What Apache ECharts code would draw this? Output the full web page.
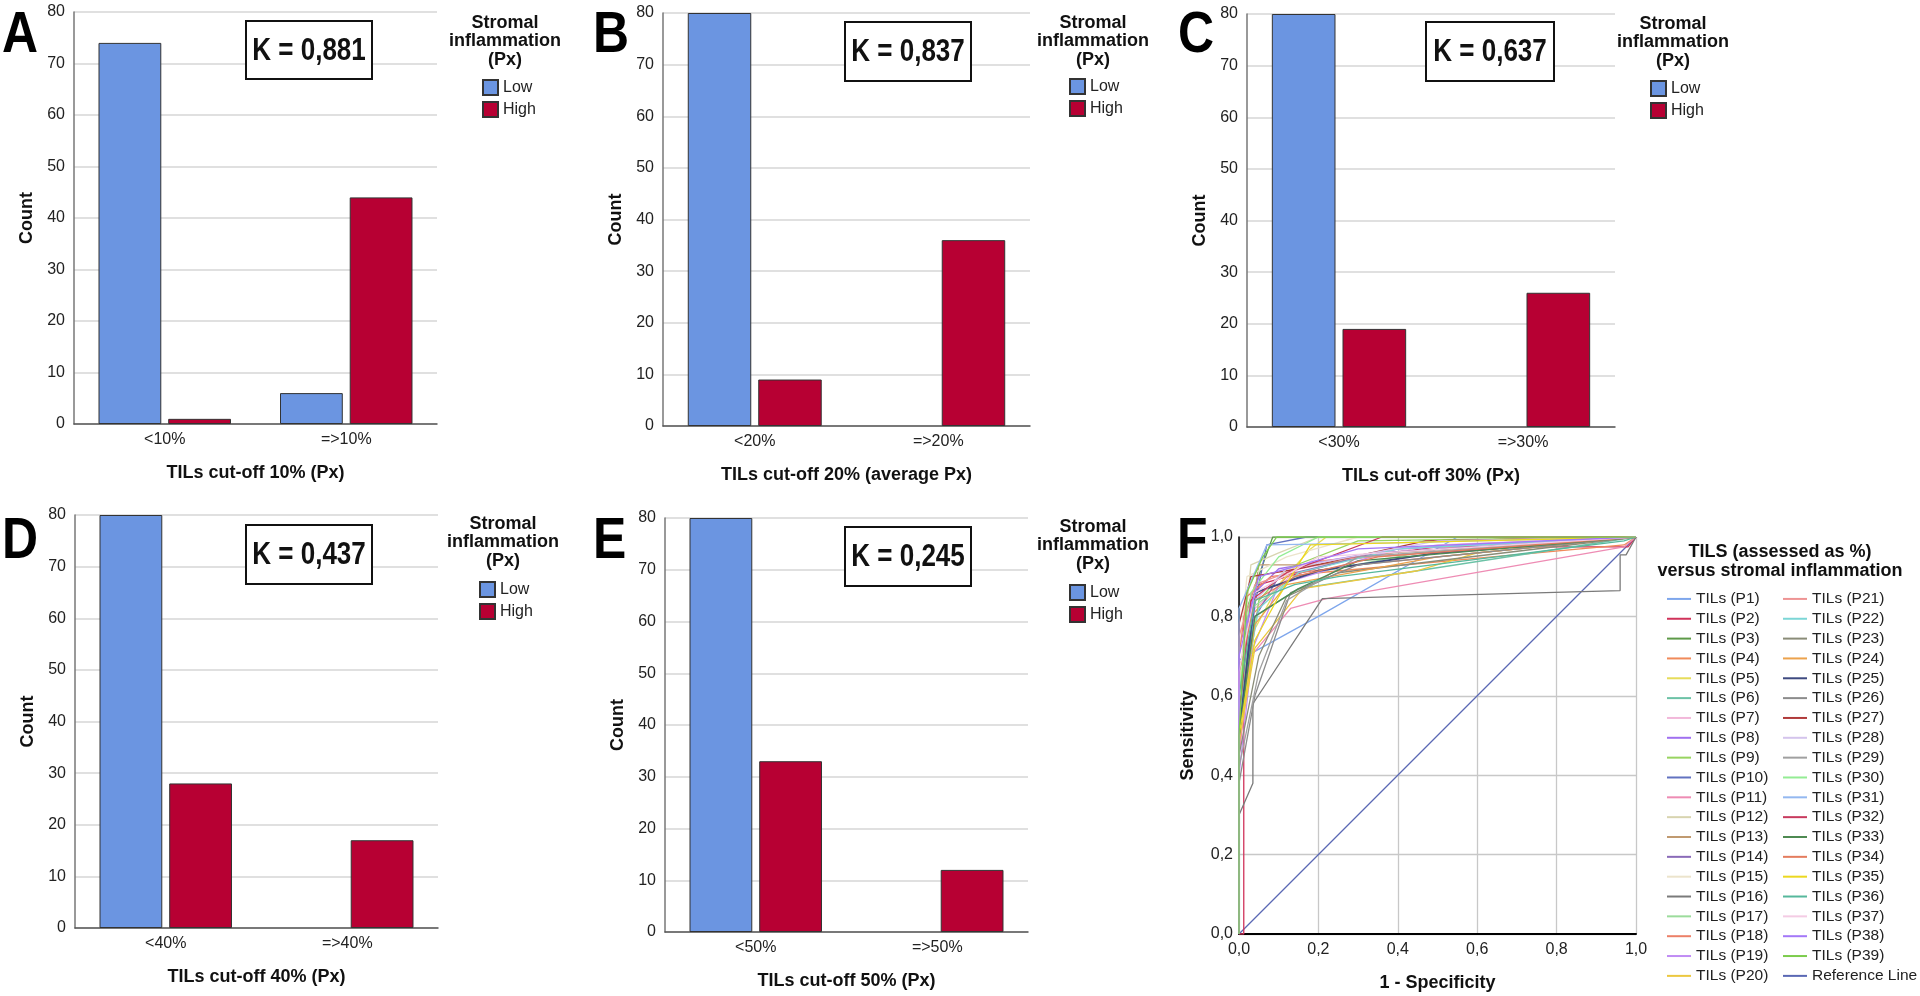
<!DOCTYPE html>
<html>
<head>
<meta charset="utf-8">
<script src="https://cdn.jsdelivr.net/npm/echarts@6/dist/echarts.min.js"></script>
<style>
html,body{margin:0;padding:0;background:#fff;}
#chart{width:1920px;height:996px;}
</style>
</head>
<body>
<div id="chart"></div>
<script>
// ---------------- DATA ----------------
const catsA = ['<10%', '=>10%'];
const lowA = [74, 6];
const highA = [1, 44];
const catsB = ['<20%', '=>20%'];
const lowB = [80, 0];
const highB = [9, 36];
const catsC = ['<30%', '=>30%'];
const lowC = [80, 0];
const highC = [19, 26];
const catsD = ['<40%', '=>40%'];
const lowD = [80, 0];
const highD = [28, 17];
const catsE = ['<50%', '=>50%'];
const lowE = [80, 0];
const highE = [33, 12];
const kappas = ['0,881', '0,837', '0,637', '0,437', '0,245'];
const xTitles = ['TILs cut-off 10% (Px)', 'TILs cut-off 20% (average Px)', 'TILs cut-off 30% (Px)', 'TILs cut-off 40% (Px)', 'TILs cut-off 50% (Px)'];
const panelLetters = ['A', 'B', 'C', 'D', 'E', 'F'];
const groupNames = ['Low', 'High'];
const legendTitleLines = ['Stromal', 'inflammation', '(Px)'];
const countTicks = {min: 0, max: 80, interval: 10};
const rocTicks = {min: 0, max: 1, interval: 0.2};
const rocLegendTitle = ['TILS (assessed as %)', 'versus stromal inflammation'];

// ROC curves (1 - specificity, sensitivity)
const rocCurves = [
  [[0,0],[0,0.69],[0.2,0.8],[0.55,1],[1,1]],                                   // P1
  [[0,0],[0.012,0],[0.012,0.8],[0.05,0.88],[0.3,0.95],[0.5,0.975],[0.98,0.975],[1,1]], // P2
  [[0,0],[0,0.45],[0.02,0.82],[0.085,1],[1,1]],                                // P3
  [[0,0],[0,0.6],[0.03,0.8],[0.12,0.9],[0.2,0.91],[0.97,0.98],[1,1]],          // P4
  [[0,0],[0,0.55],[0.03,0.75],[0.1,0.88],[0.18,0.97],[0.22,1],[1,1]],          // P5
  [[0,0],[0,0.5],[0.04,0.8],[0.15,0.87],[0.45,0.915],[1,1]],                   // P6
  [[0,0],[0,0.6],[0.04,0.82],[0.15,0.92],[0.5,0.98],[1,1]],                    // P7
  [[0,0],[0,0.72],[0.04,0.86],[0.1,0.92],[0.4,0.97],[1,1]],                    // P8
  [[0,0],[0,0.5],[0.05,0.84],[0.12,0.92],[0.3,0.99],[1,1]],                    // P9
  [[0,0],[0,0.5],[0.04,0.83],[0.07,0.98],[0.17,1],[1,1]],                      // P10
  [[0,0],[0,0.45],[0.03,0.7],[0.13,0.82],[0.22,0.845],[0.97,0.975],[1,1]],     // P11
  [[0,0],[0,0.62],[0.03,0.93],[0.1,0.96],[0.2,1],[1,1]],                       // P12
  [[0,0],[0,0.66],[0.025,0.76],[0.05,0.93],[0.2,0.93],[0.38,0.96],[1,1]],      // P13
  [[0,0],[0,0.55],[0.03,0.78],[0.1,0.9],[0.35,0.96],[1,1]],                    // P14
  [[0,0],[0,0.7],[0.02,0.9],[0.12,0.95],[0.3,1],[1,1]],                        // P15
  [[0,0],[0,0.3],[0.035,0.38],[0.035,0.58],[0.21,0.845],[0.96,0.865],[0.96,0.955],[0.975,0.955],[1,1]], // P16
  [[0,0],[0,0.5],[0.03,0.82],[0.14,0.9],[0.45,0.96],[1,1]],                    // P17
  [[0,0],[0,0.7],[0.02,0.85],[0.08,0.9],[0.3,0.93],[1,1]],                     // P18
  [[0,0],[0,0.4],[0.035,0.72],[0.1,0.88],[0.4,0.97],[1,1]],                    // P19
  [[0,0],[0,0.48],[0.04,0.72],[0.16,0.87],[0.45,0.915],[0.6,0.96],[1,1]],      // P20
  [[0,0],[0,0.75],[0.04,0.88],[0.2,0.94],[1,1]],                               // P21
  [[0,0],[0,0.55],[0.05,0.82],[0.15,0.91],[0.4,0.97],[1,1]],                   // P22
  [[0,0],[0,0.45],[0.05,0.7],[0.12,0.85],[0.25,0.91],[1,1]],                   // P23
  [[0,0],[0,0.52],[0.04,0.78],[0.12,0.88],[0.5,0.95],[1,1]],                   // P24
  [[0,0],[0,0.5],[0.04,0.86],[0.2,0.915],[0.5,0.96],[1,1]],                    // P25
  [[0,0],[0,0.38],[0.04,0.6],[0.13,0.86],[0.3,0.93],[1,1]],                    // P26
  [[0,0],[0,0.78],[0.03,0.9],[0.15,0.92],[0.47,0.99],[1,1]],                   // P27
  [[0,0],[0,0.62],[0.04,0.84],[0.12,0.92],[0.5,0.99],[1,1]],                   // P28
  [[0,0],[0,0.42],[0.05,0.66],[0.12,0.84],[0.3,0.95],[1,1]],                   // P29
  [[0,0],[0,0.6],[0.03,0.86],[0.1,0.95],[0.2,1],[1,1]],                        // P30
  [[0,0],[0,0.82],[0.07,0.98],[0.38,0.985],[1,1]],                             // P31
  [[0,0],[0,0.55],[0.03,0.84],[0.12,0.91],[0.36,1],[1,1]],                     // P32
  [[0,0],[0,0.5],[0.04,0.8],[0.15,0.87],[0.3,0.94],[1,1]],                     // P33
  [[0,0],[0,0.66],[0.04,0.84],[0.14,0.9],[0.35,0.95],[1,1]],                   // P34
  [[0,0],[0,0.5],[0.04,0.74],[0.1,0.85],[0.18,0.98],[1,1]],                    // P35
  [[0,0],[0,0.6],[0.04,0.84],[0.14,0.88],[0.25,0.9],[0.97,0.99],[1,1]],        // P36
  [[0,0],[0,0.66],[0.04,0.86],[0.2,0.95],[1,1]],                               // P37
  [[0,0],[0,0.7],[0.05,0.9],[0.3,0.97],[1,1]],                                 // P38
  [[0,0],[0,0.5],[0.02,0.86],[0.06,0.95],[0.095,1],[1,1]]                      // P39
];
const referenceLine = [[0,0],[1,1]];
const rocNames = rocCurves.map((c, i) => 'TILs (P' + (i + 1) + ')');

// ---------------- STYLE ----------------
const rocColors = ['#7ea6ec','#d0325a','#5d9a48','#f08a5a','#e6dc5a','#6cc2a6','#f2b8da','#a070f0','#98d460','#6272c0',
  '#ee8cb4','#d8d4b0','#c09a70','#8a6ab8','#ece4cc','#7a7a7a','#9cdc9c','#ec8068','#c08cf4','#ecc840',
  '#ee9494','#7cd6d6','#8a8c78','#eca24c','#3e4a80','#8c8c8c','#b03a3a','#d4c4ec','#a0a0a0','#94ec94',
  '#94b8f0','#c83a5e','#4e8a52','#e47c5e','#ecd820','#56b89c','#f4cce4','#a478f8','#7ccc4c'];
const refColor = '#5a68b4';
const lowColor = '#6b95e1';
const highColor = '#b70033';
const FONT = '"Liberation Sans", Arial, sans-serif';

const layout = [
  {grid:{left:74,top:12,width:363,height:412}, k:[246,21,126,58], lt:[505,23], lg:[482,79], letter:[2,36]},
  {grid:{left:663,top:13,width:367,height:413}, k:[845,22,126,59], lt:[1093,23], lg:[1069,78], letter:[593,36]},
  {grid:{left:1247,top:14,width:368,height:413}, k:[1426,22,128,59], lt:[1673,24], lg:[1650,80], letter:[1178,36]},
  {grid:{left:75,top:515,width:363,height:413}, k:[246,525,126,59], lt:[503,524], lg:[479,581], letter:[2,542]},
  {grid:{left:665,top:518,width:363,height:414}, k:[845,527,126,59], lt:[1093,527], lg:[1069,584], letter:[593,542]}
];
const rocGrid = {left:1239, top:537, width:397, height:397};
const rocLetter = [1177, 542];

const barCats = [catsA, catsB, catsC, catsD, catsE];
const barLow = [lowA, lowB, lowC, lowD, lowE];
const barHigh = [highA, highB, highC, highD, highE];

// zero-height bars are not drawn with an outline
const barItems = arr => arr.map(v => v === 0 ? {value:v, itemStyle:{borderWidth:0, opacity:0}} : v);

// ---------------- BUILD ----------------
const grids = [], xAxes = [], yAxes = [], series = [], legends = [], graphics = [];

layout.forEach((L, i) => {
  grids.push(Object.assign({containLabel:false}, L.grid));
  xAxes.push({
    type:'category', gridIndex:i, data:barCats[i],
    axisTick:{show:false},
    axisLine:{lineStyle:{color:'#555', width:1.5}},
    axisLabel:{fontSize:16, color:'#222', margin:8, fontFamily:FONT},
    name:xTitles[i], nameLocation:'middle', nameGap:40,
    nameTextStyle:{fontSize:18, fontWeight:'bold', color:'#111', fontFamily:FONT}
  });
  yAxes.push({
    type:'value', gridIndex:i, min:countTicks.min, max:countTicks.max, interval:countTicks.interval,
    axisLine:{show:true, lineStyle:{color:'#777', width:1.5}},
    axisTick:{show:false},
    axisLabel:{fontSize:16, color:'#222', margin:9, fontFamily:FONT},
    splitLine:{lineStyle:{color:'#d6d6d6', width:1.5}},
    name:'Count', nameLocation:'middle', nameGap:38,
    nameTextStyle:{fontSize:18, fontWeight:'bold', color:'#111', fontFamily:FONT}
  });
  series.push({
    name:'Low', type:'bar', xAxisIndex:i, yAxisIndex:i, data:barItems(barLow[i]),
    barGap:'11%', barCategoryGap:'27%',
    itemStyle:{color:lowColor, borderColor:'#333', borderWidth:1}
  });
  series.push({
    name:'High', type:'bar', xAxisIndex:i, yAxisIndex:i, data:barItems(barHigh[i]),
    barGap:'11%', barCategoryGap:'27%',
    itemStyle:{color:highColor, borderColor:'#333', borderWidth:1}
  });
  legends.push({
    data:groupNames, orient:'vertical', left:L.lg[0], top:L.lg[1], padding:0,
    icon:'rect', itemWidth:15, itemHeight:15, itemGap:5, selectedMode:false,
    textStyle:{fontSize:16, color:'#222', fontFamily:FONT}
  });
  graphics.push({
    type:'rect', shape:{x:L.k[0], y:L.k[1], width:L.k[2], height:L.k[3]},
    style:{fill:'#fff', stroke:'#111', lineWidth:2}, z:10
  });
  graphics.push({
    type:'text', x:L.k[0] + L.k[2] / 2, y:L.k[1] + L.k[3] / 2 + 1,
    scaleX:0.84, z:11,
    style:{text:'K = ' + kappas[i], font:'bold 31px ' + FONT, fill:'#111', textAlign:'center', textVerticalAlign:'middle'}
  });
  legendTitleLines.forEach((t, j) => {
    graphics.push({
      type:'text', x:L.lt[0], y:L.lt[1] + j * 18.5, z:10,
      style:{text:t, font:'bold 18px ' + FONT, fill:'#111', textAlign:'center', textVerticalAlign:'middle'}
    });
  });
  graphics.push({
    type:'text', x:L.letter[0], y:L.letter[1], scaleX:0.86, z:10,
    style:{text:panelLetters[i], font:'bold 58px ' + FONT, fill:'#000', textAlign:'left', textVerticalAlign:'middle'}
  });
});

// ROC panel
const ri = layout.length;
grids.push(Object.assign({containLabel:false}, rocGrid));
const commaFmt = v => v.toFixed(1).replace('.', ',');
xAxes.push({
  type:'value', gridIndex:ri, min:rocTicks.min, max:rocTicks.max, interval:rocTicks.interval,
  axisLine:{lineStyle:{color:'#000', width:2}}, axisTick:{show:false},
  axisLabel:{fontSize:16, color:'#222', margin:8, formatter:commaFmt, fontFamily:FONT},
  splitLine:{show:true, lineStyle:{color:'#c8c8c8', width:1.3}},
  name:'1 - Specificity', nameLocation:'middle', nameGap:40,
  nameTextStyle:{fontSize:18, fontWeight:'bold', color:'#111', fontFamily:FONT}
});
yAxes.push({
  type:'value', gridIndex:ri, min:rocTicks.min, max:rocTicks.max, interval:rocTicks.interval,
  axisLine:{show:true, lineStyle:{color:'#000', width:1.5}}, axisTick:{show:false},
  axisLabel:{fontSize:16, color:'#222', margin:6, formatter:commaFmt, fontFamily:FONT},
  splitLine:{show:true, lineStyle:{color:'#c8c8c8', width:1.3}},
  name:'Sensitivity', nameLocation:'middle', nameGap:42,
  nameTextStyle:{fontSize:18, fontWeight:'bold', color:'#111', fontFamily:FONT}
});
series.push({
  name:'Reference Line', type:'line', xAxisIndex:ri, yAxisIndex:ri, data:referenceLine,
  showSymbol:false, symbol:'none', silent:true, z:2,
  lineStyle:{color:refColor, width:1.2}, itemStyle:{color:refColor}
});
rocCurves.forEach((c, i) => {
  series.push({
    name:rocNames[i], type:'line', xAxisIndex:ri, yAxisIndex:ri, data:c,
    showSymbol:false, symbol:'none', silent:true, z:3,
    lineStyle:{color:rocColors[i], width:(i === 24 ? 2 : 1.3)}, itemStyle:{color:rocColors[i]}
  });
});
const rocLegendCommon = {
  orient:'vertical', top:589, padding:0, icon:'rect', itemWidth:24, itemHeight:2, itemGap:0,
  selectedMode:false,
  textStyle:{fontSize:15.5, color:'#222', lineHeight:19.84, fontFamily:FONT}
};
legends.push(Object.assign({}, rocLegendCommon, {left:1667, data:rocNames.slice(0, 20)}));
legends.push(Object.assign({}, rocLegendCommon, {left:1783, data:rocNames.slice(20).concat(['Reference Line'])}));
rocLegendTitle.forEach((t, j) => {
  graphics.push({
    type:'text', x:1780, y:552 + j * 19, z:10,
    style:{text:t, font:'bold 18px ' + FONT, fill:'#111', textAlign:'center', textVerticalAlign:'middle'}
  });
});
graphics.push({
  type:'text', x:rocLetter[0], y:rocLetter[1], scaleX:0.86, z:10,
  style:{text:panelLetters[5], font:'bold 58px ' + FONT, fill:'#000', textAlign:'left', textVerticalAlign:'middle'}
});

const chart = echarts.init(document.getElementById('chart'), null, {renderer:'canvas'});
chart.setOption({
  animation:false,
  backgroundColor:'#fff',
  textStyle:{fontFamily:FONT},
  grid:grids, xAxis:xAxes, yAxis:yAxes, series:series, legend:legends, graphic:graphics
});
</script>
</body>
</html>
